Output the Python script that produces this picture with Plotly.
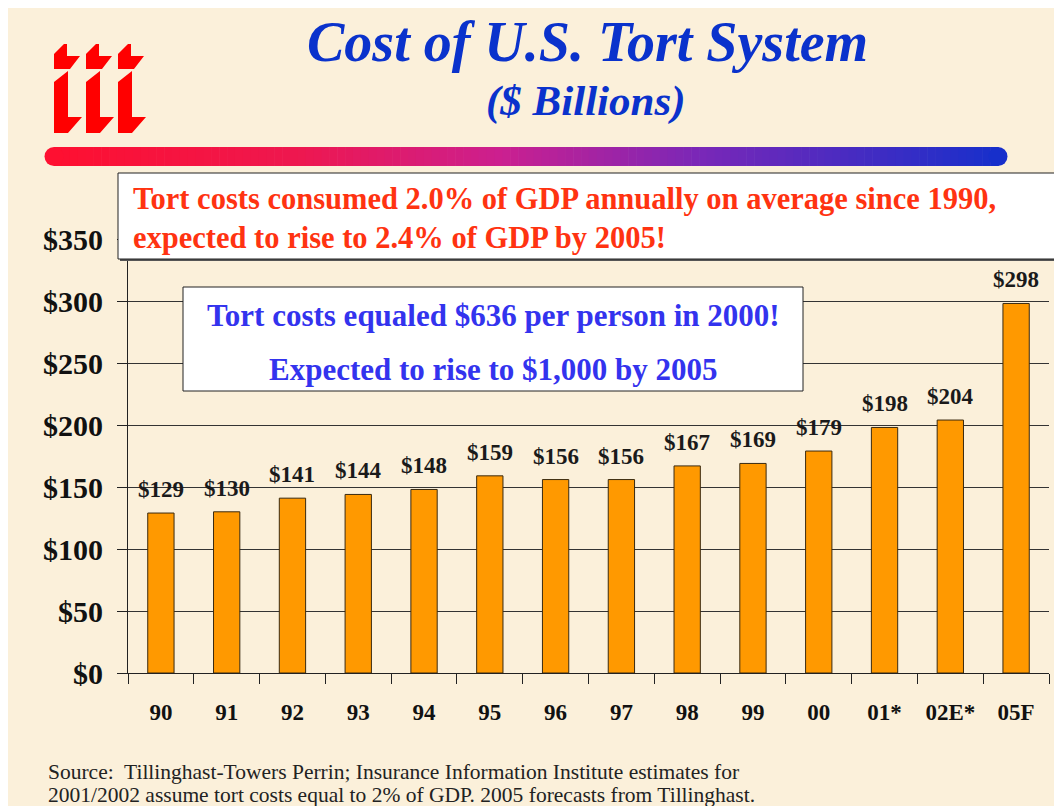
import plotly.graph_objects as go

categories = ["90", "91", "92", "93", "94", "95", "96", "97", "98", "99", "00", "01*", "02E*", "05F"]
values = [129, 130, 141, 144, 148, 159, 156, 156, 167, 169, 179, 198, 204, 298]
y_ticks = [0, 50, 100, 150, 200, 250, 300, 350]
y_tick_labels = ["$" + str(v) for v in y_ticks]

# the page body adds an 8px margin, so the figure is drawn 8px in from the window corner
OFF = 8
W, H = 1062 - OFF, 806 - OFF
# plot area in reference-pixel coordinates
PL, PR, PT, PB = 128, 1049, 239, 673
L, R, T, B = PL - OFF, W - (PR - OFF), PT - OFF, H - (PB - OFF)
PW, PH = PR - PL, PB - PT

def px(x):
    return (x - PL) / PW

def py(y):
    return (PB - y) / PH

SERIF = "Liberation Serif, Times New Roman, serif"

fig = go.Figure()
fig.add_trace(go.Bar(
    x=list(range(len(categories))), y=values, width=0.4,
    marker=dict(color="#FF9900", line=dict(color="#3a2a10", width=1)),
    hoverinfo="skip",
))

shapes = []
annotations = []

# gradient bar
stops = [(45, (255, 16, 48)), (300, (238, 24, 80)), (500, (204, 32, 144)),
         (700, (122, 40, 184)), (1007, (21, 48, 204))]
def col(x):
    for (x0, c0), (x1, c1) in zip(stops[:-1], stops[1:]):
        if x0 <= x <= x1:
            t = (x - x0) / (x1 - x0)
            return "rgb(%d,%d,%d)" % tuple(int(c0[i] + (c1[i] - c0[i]) * t) for i in range(3))
    return "rgb(%d,%d,%d)" % stops[-1][1]
gx0, gx1, gy0, gy1 = 54, 998, 147, 166
n = 120
step = (gx1 - gx0) / n
for i in range(n):
    xa = gx0 + i * step
    shapes.append(dict(type="rect", xref="paper", yref="paper", x0=px(xa), x1=px(xa + step + 0.6),
                       y0=py(gy1), y1=py(gy0), fillcolor=col(xa + step / 2), line=dict(width=0), layer="above"))
r = (gy1 - gy0) / 2
for cx in (gx0, gx1):
    shapes.append(dict(type="circle", xref="paper", yref="paper", x0=px(cx - r), x1=px(cx + r),
                       y0=py(gy1), y1=py(gy0), fillcolor=col(cx), line=dict(width=0), layer="above"))

# logo
def path(points):
    return "M " + " L ".join("%f,%f" % (px(a), py(b)) for a, b in points) + " Z"
for k in range(3):
    ox = 32 * k
    dot = [(54, 54), (64, 44), (67, 44), (67, 56), (80, 56), (70, 69), (54, 69)]
    stem = [(54, 82), (68, 71), (68, 117), (82, 117), (68, 133), (54, 133)]
    for pts in (dot, stem):
        shapes.append(dict(type="path", xref="paper", yref="paper",
                           path=path([(a + ox, b) for a, b in pts]),
                           fillcolor="#FF0000", line=dict(width=0), layer="above"))

# red text box
shapes.append(dict(type="rect", xref="paper", yref="paper", x0=px(120), x1=px(1059), y0=py(261), y1=py(175),
                   fillcolor="#555555", line=dict(width=0), layer="above"))
shapes.append(dict(type="rect", xref="paper", yref="paper", x0=px(118), x1=px(1057), y0=py(259), y1=py(173),
                   fillcolor="white", line=dict(color="#222222", width=1), layer="above"))
# blue text box
shapes.append(dict(type="rect", xref="paper", yref="paper", x0=px(183), x1=px(803), y0=py(391), y1=py(287),
                   fillcolor="white", line=dict(color="#222222", width=1), layer="above"))

def text(x, y, s, size, color, bold=True, italic=False, xanchor="center"):
    t = s
    if bold:
        t = "<b>" + t + "</b>"
    if italic:
        t = "<i>" + t + "</i>"
    annotations.append(dict(xref="paper", yref="paper", x=px(x), y=py(y), text=t, showarrow=False,
                            xanchor=xanchor, yanchor="middle",
                            font=dict(family=SERIF, size=size, color=color)))

text(587, 42, "Cost of U.S. Tort System", 56, "#0A32CC", italic=True)
text(586, 101, "($ Billions)", 43, "#0A32CC", italic=True)
text(131, 199, "Tort costs consumed 2.0% of GDP annually on average since 1990,", 30.5, "#FF3311", xanchor="left")
text(131, 238, "expected to rise to 2.4% of GDP by 2005!", 30.5, "#FF3311", xanchor="left")
text(493, 315, "Tort costs equaled $636 per person in 2000!", 31, "#3333EE")
text(493, 369, "Expected to rise to $1,000 by 2005", 31, "#3333EE")
text(46, 772, "Source:  Tillinghast-Towers Perrin; Insurance Information Institute estimates for", 21.5, "#222222",
     bold=False, xanchor="left")
text(46, 795, "2001/2002 assume tort costs equal to 2% of GDP. 2005 forecasts from Tillinghast.", 21.5, "#222222",
     bold=False, xanchor="left")

# bar value labels
for i, v in enumerate(values):
    annotations.append(dict(x=i, y=v, xref="x", yref="y", text="<b>$%d</b>" % v, showarrow=False,
                            yanchor="bottom", yshift=9,
                            font=dict(family=SERIF, size=23, color="#1a1a1a")))

fig.update_layout(
    width=W, height=H,
    margin=dict(l=L, r=R, t=T, b=B, pad=0),
    paper_bgcolor="#FBF0DA",
    plot_bgcolor="rgba(0,0,0,0)",
    showlegend=False,
    shapes=shapes,
    annotations=annotations,
    bargap=0.6,
)
fig.update_xaxes(
    range=[-0.5, len(categories) - 0.5],
    showline=True, linecolor="#222222", linewidth=1,
    ticks="", showgrid=False, zeroline=False,
    tickvals=list(range(len(categories))), ticktext=["<b>" + c + "</b>" for c in categories],
    tickfont=dict(family=SERIF, size=23, color="#111111"),
    ticklabelstandoff=18,
    minor=dict(tickvals=[i - 0.5 for i in range(len(categories) + 1)], ticks="outside", ticklen=10,
               tickcolor="#222222", showgrid=False),
)
fig.update_yaxes(
    range=[0, 350], tickvals=y_ticks, ticktext=["<b>" + t + "</b>" for t in y_tick_labels],
    showline=True, linecolor="#222222", linewidth=1,
    ticks="outside", ticklen=10, tickcolor="#222222",
    showgrid=True, gridcolor="#333333", gridwidth=1, zeroline=False,
    tickfont=dict(family=SERIF, size=30, color="#111111"),
    ticklabelstandoff=8,
)

fig.write_html("out.html")
